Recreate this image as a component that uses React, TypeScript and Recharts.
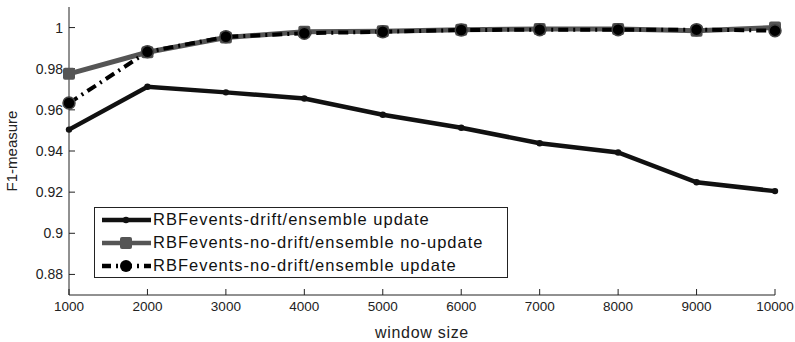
import React from 'react';
import { LineChart, Line, XAxis, YAxis, Legend } from 'recharts';

const windowSizes = [1000, 2000, 3000, 4000, 5000, 6000, 7000, 8000, 9000, 10000];
const driftUpdate = [0.9504, 0.9712, 0.9685, 0.9655, 0.9576, 0.9513, 0.9438, 0.9393, 0.9248, 0.9205];
const noDriftNoUpdate = [0.9775, 0.988, 0.9952, 0.998, 0.9982, 0.9989, 0.9993, 0.9993, 0.9985, 1.0];
const noDriftUpdate = [0.9633, 0.9882, 0.9955, 0.9972, 0.998, 0.9988, 0.999, 0.999, 0.999, 0.9985];
const xTicks = [1000, 2000, 3000, 4000, 5000, 6000, 7000, 8000, 9000, 10000];
const yTicks = [0.88, 0.9, 0.92, 0.94, 0.96, 0.98, 1];
const seriesNames = [
  'RBFevents-drift/ensemble update',
  'RBFevents-no-drift/ensemble no-update',
  'RBFevents-no-drift/ensemble update',
];

const data = windowSizes.map((w, i) => ({
  w,
  s1: driftUpdate[i],
  s2: noDriftNoUpdate[i],
  s3: noDriftUpdate[i],
}));

const FONT = '"Liberation Sans", Arial, sans-serif';

const StarDot = (props: any) => {
  const { cx, cy, index } = props;
  return (
    <g key={`s1-${index}`}>
      <circle cx={cx} cy={cy} r={3.2} fill="#111" />
    </g>
  );
};
const SquareDot = (props: any) => {
  const { cx, cy, index } = props;
  return <rect key={`s2-${index}`} x={cx - 6} y={cy - 6} width={12} height={12} rx={2} fill="#555" />;
};
const CircleDot = (props: any) => {
  const { cx, cy, index } = props;
  return <circle key={`s3-${index}`} cx={cx} cy={cy} r={6} fill="#000" stroke="#444" strokeWidth={1.5} />;
};

const LegendContent = () => (
  <div
    style={{
      width: 412,
      height: 69,
      border: '1px solid #222',
      background: '#fff',
      fontFamily: FONT,
      fontSize: 16.5,
      color: '#111',
      paddingTop: 0,
      boxSizing: 'content-box',
    }}
  >
    {seriesNames.map((name, i) => (
      <div key={name} style={{ height: 23, display: 'flex', alignItems: 'center', whiteSpace: 'nowrap' }}>
        <svg width={58} height={23} style={{ display: 'block' }}>
          {i === 0 && (
            <g>
              <line x1={7} y1={12} x2={56} y2={12} stroke="#111" strokeWidth={4.5} />
              <circle cx={31} cy={12} r={3.2} fill="#111" />
            </g>
          )}
          {i === 1 && (
            <g>
              <line x1={7} y1={12} x2={56} y2={12} stroke="#555" strokeWidth={4.5} />
              <rect x={25} y={6} width={12} height={12} rx={2} fill="#555" />
            </g>
          )}
          {i === 2 && (
            <g>
              <line x1={7} y1={12} x2={56} y2={12} stroke="#000" strokeWidth={4.5} strokeDasharray="9 5 2 5" />
              <circle cx={31} cy={12} r={6} fill="#000" />
            </g>
          )}
        </svg>
        <span style={{ letterSpacing: 1 }}>{name}</span>
      </div>
    ))}
  </div>
);

export default function App() {
  return (
    <div style={{ position: 'absolute', left: 0, top: 0, width: 795, height: 342, background: '#fff' }}>
      <LineChart
        width={795}
        height={342}
        data={data}
        margin={{ top: 7, right: 20, bottom: 0, left: 0 }}
        style={{ fontFamily: FONT }}
      >
        <XAxis
          dataKey="w"
          type="number"
          domain={[1000, 10000]}
          ticks={xTicks}
          height={47}
          stroke="#222"
          tickSize={-6}
          tickMargin={12}
          tick={{ fill: '#222', fontSize: 13.5, fontFamily: FONT }}
          label={{ value: 'window size', position: 'insideBottom', offset: 4, fill: '#222', fontSize: 16, fontFamily: FONT, letterSpacing: 0.7 }}
        />
        <XAxis
          xAxisId="top"
          orientation="top"
          dataKey="w"
          type="number"
          domain={[1000, 10000]}
          ticks={xTicks}
          height={0}
          stroke="#222"
          tickSize={-6}
          tick={() => <g />}
        />
        <YAxis
          type="number"
          domain={[0.87, 1.01]}
          ticks={yTicks}
          width={69}
          stroke="#222"
          tickSize={-6}
          tickMargin={12}
          tick={{ fill: '#222', fontSize: 14, fontFamily: FONT }}
          tickFormatter={(v: number) => String(Number(v.toFixed(2)))}
          label={{ value: 'F1-measure', angle: -90, position: 'insideLeft', offset: 12, fill: '#222', fontSize: 15, fontFamily: FONT, style: { textAnchor: 'middle' } }}
        />
        <YAxis
          yAxisId="right"
          orientation="right"
          type="number"
          domain={[0.87, 1.01]}
          ticks={yTicks}
          width={0}
          stroke="#222"
          tickSize={-6}
          tick={() => <g />}
        />
        <Legend
          layout="vertical"
          align="center"
          verticalAlign="middle"
          content={() => <LegendContent />}
          wrapperStyle={{ left: 94, top: 207, width: 414, height: 71 }}
        />
        <Line dataKey="s1" name={seriesNames[0]} stroke="#111" strokeWidth={4.5} dot={StarDot} isAnimationActive={false} />
        <Line dataKey="s2" name={seriesNames[1]} stroke="#555" strokeWidth={5} dot={SquareDot} isAnimationActive={false} />
        <Line dataKey="s3" name={seriesNames[2]} stroke="#000" strokeWidth={4} strokeDasharray="10 5 2 5" dot={CircleDot} isAnimationActive={false} />
      </LineChart>
    </div>
  );
}
